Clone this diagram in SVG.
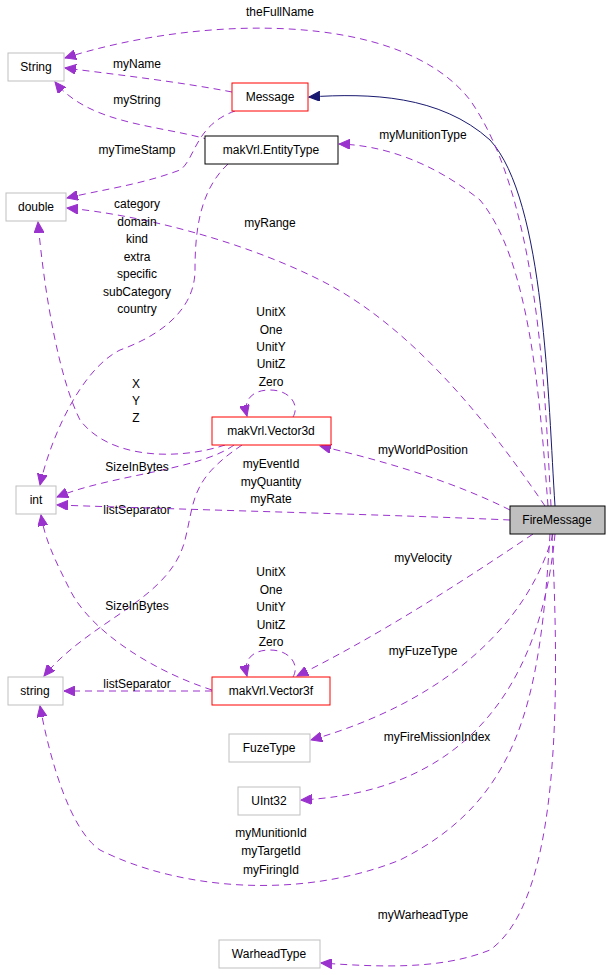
<svg xmlns="http://www.w3.org/2000/svg" width="611" height="975" viewBox="0 0 611 975">
<style>
text{font-family:"Liberation Sans",Arial,sans-serif;font-size:12px;fill:#000;text-anchor:middle}
.n rect{fill:#fff;stroke:#bfbfbf;stroke-width:1}
.n.red rect{stroke:#ff0000}
.n.blk rect{stroke:#000}
.n.cur rect{fill:#bfbfbf;stroke:#000}
.e{fill:none;stroke:#9a32cd;stroke-width:1;stroke-dasharray:7,5}
.inh{fill:none;stroke:#191970;stroke-width:1}
</style>
<defs>
<marker id="ap" markerWidth="12" markerHeight="10" refX="11" refY="5" orient="auto" markerUnits="userSpaceOnUse"><path d="M0,0 L11,5 L0,10 Z" fill="#9a32cd" stroke="#9a32cd"/></marker>
<marker id="an" markerWidth="12" markerHeight="10" refX="11" refY="5" orient="auto" markerUnits="userSpaceOnUse"><path d="M0,0 L11,5 L0,10 Z" fill="#191970" stroke="#191970"/></marker>
</defs>
<rect width="611" height="975" fill="#fff"/>
<g id="connectors">
<path class="inh" d="M555,506 C548,400 545,200 490,140 C440,95 370,93 309,97" marker-end="url(#an)"/>
<path class="e" d="M551,506 C545,400 540,200 470,100 C400,10 200,15 65,58" marker-end="url(#ap)"/>
<text x="280" y="16">theFullName</text>
<path class="e" d="M232,92 C180,82 120,75 65,68" marker-end="url(#ap)"/>
<text x="137" y="68">myName</text>
<path class="e" d="M210,140 C160,125 90,125 55,82" marker-end="url(#ap)"/>
<text x="137" y="104">myString</text>
<path class="e" d="M235,111 C195,125 195,160 180,170 C140,185 100,190 67,198" marker-end="url(#ap)"/>
<text x="137" y="154">myTimeStamp</text>
<path class="e" d="M548,506 C540,400 530,260 480,200 C430,160 380,145 339,144" marker-end="url(#ap)"/>
<text x="423" y="139">myMunitionType</text>
<path class="e" d="M545,506 C500,440 420,330 320,280 C240,240 140,215 67,208" marker-end="url(#ap)"/>
<text x="270" y="227">myRange</text>
<path class="e" d="M228,164 C200,190 195,230 195,270 C195,300 175,330 120,350 C80,370 50,440 40,485" marker-end="url(#ap)"/>
<text x="137" y="208">category</text><text x="137" y="226">domain</text><text x="137" y="243">kind</text><text x="137" y="261">extra</text><text x="137" y="278">specific</text><text x="137" y="296">subCategory</text><text x="137" y="313">country</text>
<path class="e" d="M225,445 C180,460 110,460 80,420 C60,380 45,300 38,222" marker-end="url(#ap)"/>
<text x="136" y="388">X</text><text x="136" y="405">Y</text><text x="136" y="422">Z</text>
<path class="e" d="M293,417 C300,405 290,390 270,390 C252,390 243,400 247,416" marker-end="url(#ap)"/>
<text x="271" y="316">UnitX</text><text x="271" y="334">One</text><text x="271" y="351">UnitY</text><text x="271" y="368">UnitZ</text><text x="271" y="386">Zero</text>
<path class="e" d="M234,445 C200,470 110,475 57,497" marker-end="url(#ap)"/>
<text x="137" y="471">SizeInBytes</text>
<path class="e" d="M242,445 C190,480 195,500 185,540 C170,600 90,620 44,676" marker-end="url(#ap)"/>
<text x="137" y="514">listSeparator</text>
<path class="e" d="M510,510 C450,480 380,460 320,446" marker-end="url(#ap)"/>
<text x="423" y="454">myWorldPosition</text>
<path class="e" d="M510,520 C400,515 200,510 57,505" marker-end="url(#ap)"/>
<text x="271" y="468">myEventId</text><text x="271" y="486">myQuantity</text><text x="271" y="503">myRate</text>
<path class="e" d="M212,690 C150,670 90,630 70,590 C55,560 45,540 41,515" marker-end="url(#ap)"/>
<text x="137" y="610">SizeInBytes</text>
<path class="e" d="M212,691 L64,691" marker-end="url(#ap)"/>
<text x="137" y="688">listSeparator</text>
<path class="e" d="M293,677 C300,665 290,650 270,650 C252,650 243,660 247,676" marker-end="url(#ap)"/>
<text x="271" y="576">UnitX</text><text x="271" y="594">One</text><text x="271" y="611">UnitY</text><text x="271" y="629">UnitZ</text><text x="271" y="646">Zero</text>
<path class="e" d="M533,534 C450,590 370,640 297,676" marker-end="url(#ap)"/>
<text x="423" y="562">myVelocity</text>
<path class="e" d="M553,534 C530,620 450,700 311,740" marker-end="url(#ap)"/>
<text x="423" y="655">myFuzeType</text>
<path class="e" d="M555,534 C545,640 500,790 301,800" marker-end="url(#ap)"/>
<text x="437" y="741">myFireMissionIndex</text>
<path class="e" d="M550,534 C540,700 520,800 400,860 C300,900 180,890 100,850 C70,830 50,760 40,706" marker-end="url(#ap)"/>
<text x="271" y="837">myMunitionId</text><text x="271" y="855">myTargetId</text><text x="271" y="874">myFiringId</text>
<path class="e" d="M552,534 C560,700 560,900 490,950 C440,970 380,967 321,963" marker-end="url(#ap)"/>
<text x="423" y="919">myWarheadType</text>
</g>
<g id="String" class="n"><rect x="8" y="53" width="56" height="28"/><text x="36" y="71">String</text></g>
<g id="Message" class="n red"><rect x="232" y="83" width="76" height="28"/><text x="270" y="101">Message</text></g>
<g id="EntityType" class="n blk"><rect x="205" y="136" width="133" height="28"/><text x="271" y="154">makVrl.EntityType</text></g>
<g id="double" class="n"><rect x="6" y="193" width="60" height="28"/><text x="36" y="211">double</text></g>
<g id="Vector3d" class="n red"><rect x="212" y="417" width="119" height="28"/><text x="271" y="435">makVrl.Vector3d</text></g>
<g id="int" class="n"><rect x="16" y="486" width="40" height="28"/><text x="36" y="504">int</text></g>
<g id="FireMessage" class="n cur"><rect x="510" y="506" width="95" height="28"/><text x="557" y="524">FireMessage</text></g>
<g id="string" class="n"><rect x="8" y="677" width="55" height="28"/><text x="35" y="695">string</text></g>
<g id="Vector3f" class="n red"><rect x="212" y="677" width="118" height="28"/><text x="271" y="695">makVrl.Vector3f</text></g>
<g id="FuzeType" class="n"><rect x="229" y="734" width="81" height="28"/><text x="269" y="752">FuzeType</text></g>
<g id="UInt32" class="n"><rect x="238" y="787" width="62" height="28"/><text x="269" y="805">UInt32</text></g>
<g id="WarheadType" class="n"><rect x="219" y="940" width="101" height="28"/><text x="269" y="958">WarheadType</text></g>
</svg>
